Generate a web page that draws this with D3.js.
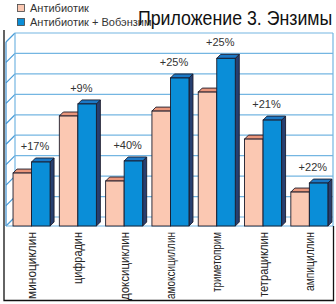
<!DOCTYPE html>
<html>
<head>
<meta charset="utf-8">
<script src="https://cdn.jsdelivr.net/npm/d3@7"></script>
<style>
  body { margin: 0; background: #fff; }
  svg { display: block; font-family: "Liberation Sans", Arial, sans-serif; }
</style>
</head>
<body>
<svg id="svg" width="336" height="304"></svg>
<script>
var categories = ["миноциклин", "цифрадин", "доксициклин", "амоксициллин", "триметоприм", "тетрациклин", "ампициллин"];
var antibiotic = [2.59, 5.38, 2.2, 5.62, 6.55, 4.25, 1.66];
var withEnzyme = [3.13, 5.97, 3.18, 7.24, 8.2, 5.18, 2.1];
var gains = ["+17%", "+9%", "+40%", "+25%", "+25%", "+21%", "+22%"];
var seriesNames = ["Антибиотик", "Антибиотик + Вобэнзим"];
var labelLengths = [67, 52, 68, 67, 60, 65, 59];

var svg = d3.select("#svg");

var wallDepth = 9;
var barDepth = 4;
var base = 226;

var xScale = d3.scaleBand()
    .domain(categories)
    .range([8.4, 332.5])
    .paddingInner(0.2)
    .paddingOuter(0.1);

var sub = d3.scaleBand()
    .domain(["a", "b"])
    .range([0, xScale.bandwidth()]);

var yScale = d3.scaleLinear()
    .domain([0, 9])
    .range([base, 42]);

var ticks = d3.range(0, 10);

// walls
var wall = svg.append("g");
wall.selectAll("line.grid")
    .data(ticks)
    .enter().append("line")
    .attr("x1", 6 + wallDepth)
    .attr("x2", 333)
    .attr("y1", function (d) { return yScale(d) - wallDepth; })
    .attr("y2", function (d) { return yScale(d) - wallDepth; })
    .attr("stroke", "#74b6e2")
    .attr("stroke-width", 1.2);

wall.selectAll("line.side")
    .data(ticks)
    .enter().append("line")
    .attr("x1", 6)
    .attr("x2", 6 + wallDepth)
    .attr("y1", function (d) { return yScale(d); })
    .attr("y2", function (d) { return yScale(d) - wallDepth; })
    .attr("stroke", "#4b9cd6")
    .attr("stroke-width", 1.2);

wall.append("line")
    .attr("x1", 6 + wallDepth).attr("x2", 6 + wallDepth)
    .attr("y1", yScale(9) - wallDepth).attr("y2", yScale(0) - wallDepth)
    .attr("stroke", "#74b6e2").attr("stroke-width", 1.2);
wall.append("line")
    .attr("x1", 6).attr("x2", 6)
    .attr("y1", yScale(9)).attr("y2", yScale(0))
    .attr("stroke", "#3e8fcf").attr("stroke-width", 1.2);
wall.append("line")
    .attr("x1", 333).attr("x2", 333)
    .attr("y1", yScale(9) - wallDepth).attr("y2", yScale(0))
    .attr("stroke", "#74b6e2").attr("stroke-width", 1.2);
wall.append("line")
    .attr("x1", 6).attr("x2", 333)
    .attr("y1", base).attr("y2", base)
    .attr("stroke", "#74b6e2").attr("stroke-width", 1.2);

// frame
svg.append("path")
    .attr("d", "M4,30 L4,300.5 L333.5,300.5 L333.5,226")
    .attr("fill", "none")
    .attr("stroke", "#111")
    .attr("stroke-width", 1.3);

// bars
var colors = {
    a: { front: "#fbc8b2", top: "#ea967b", side: "#d98068" },
    b: { front: "#0a8ed8", top: "#1c79c6", side: "#263f70" }
};

function drawBar(g, x0, w, v, c) {
    var y = yScale(v), d = barDepth;
    g.append("polygon")
        .attr("points", [[x0 + w, y], [x0 + w + d, y - d], [x0 + w + d, base - d], [x0 + w, base]].join(" "))
        .attr("fill", c.side).attr("stroke", "#1b1b2b").attr("stroke-width", 0.9).attr("stroke-linejoin", "round");
    g.append("polygon")
        .attr("points", [[x0, y], [x0 + d, y - d], [x0 + w + d, y - d], [x0 + w, y]].join(" "))
        .attr("fill", c.top).attr("stroke", "#1b1b2b").attr("stroke-width", 0.9).attr("stroke-linejoin", "round");
    g.append("rect")
        .attr("x", x0).attr("y", y)
        .attr("width", w).attr("height", base - y)
        .attr("fill", c.front).attr("stroke", "#1b1b2b").attr("stroke-width", 0.9);
}

var bars = svg.append("g");
categories.forEach(function (cat, i) {
    var gx = xScale(cat);
    drawBar(bars, gx + sub("a"), sub.bandwidth(), antibiotic[i], colors.a);
    drawBar(bars, gx + sub("b"), sub.bandwidth(), withEnzyme[i], colors.b);
});

// gain labels
svg.append("g").selectAll("text")
    .data(categories)
    .enter().append("text")
    .attr("x", function (d) { return xScale(d) + xScale.bandwidth() / 2 + 3.5; })
    .attr("y", function (d, i) { return yScale(withEnzyme[i]) - 12; })
    .attr("text-anchor", "middle")
    .attr("font-size", 11)
    .attr("fill", "#333")
    .text(function (d, i) { return gains[i]; });

// category labels, read bottom to top, top end just under the bars
svg.append("g").selectAll("text")
    .data(categories)
    .enter().append("text")
    .attr("transform", function (d) {
        return "translate(" + (xScale(d) + xScale.bandwidth() / 2 + 4.5) + ",232) rotate(-90)";
    })
    .attr("text-anchor", "end")
    .attr("font-size", 12.5)
    .attr("textLength", function (d, i) { return labelLengths[i]; })
    .attr("lengthAdjust", "spacingAndGlyphs")
    .attr("fill", "#222")
    .text(function (d) { return d; });

// legend
var legend = svg.append("g");
seriesNames.forEach(function (name, i) {
    var c = i === 0 ? colors.a : colors.b;
    legend.append("rect")
        .attr("x", 17.5).attr("y", 4.5 + i * 14)
        .attr("width", 7).attr("height", 7)
        .attr("fill", c.front)
        .attr("stroke", "#444").attr("stroke-width", 0.8);
    legend.append("text")
        .attr("x", 30).attr("y", 12 + i * 14)
        .attr("font-size", 11)
        .attr("fill", "#333")
        .text(name);
});

// title
svg.append("text")
    .attr("transform", "translate(138,25) scale(0.845,1)")
    .attr("font-size", 21)
    .attr("fill", "#111")
    .text("Приложение 3. Энзимы");
</script>
</body>
</html>
